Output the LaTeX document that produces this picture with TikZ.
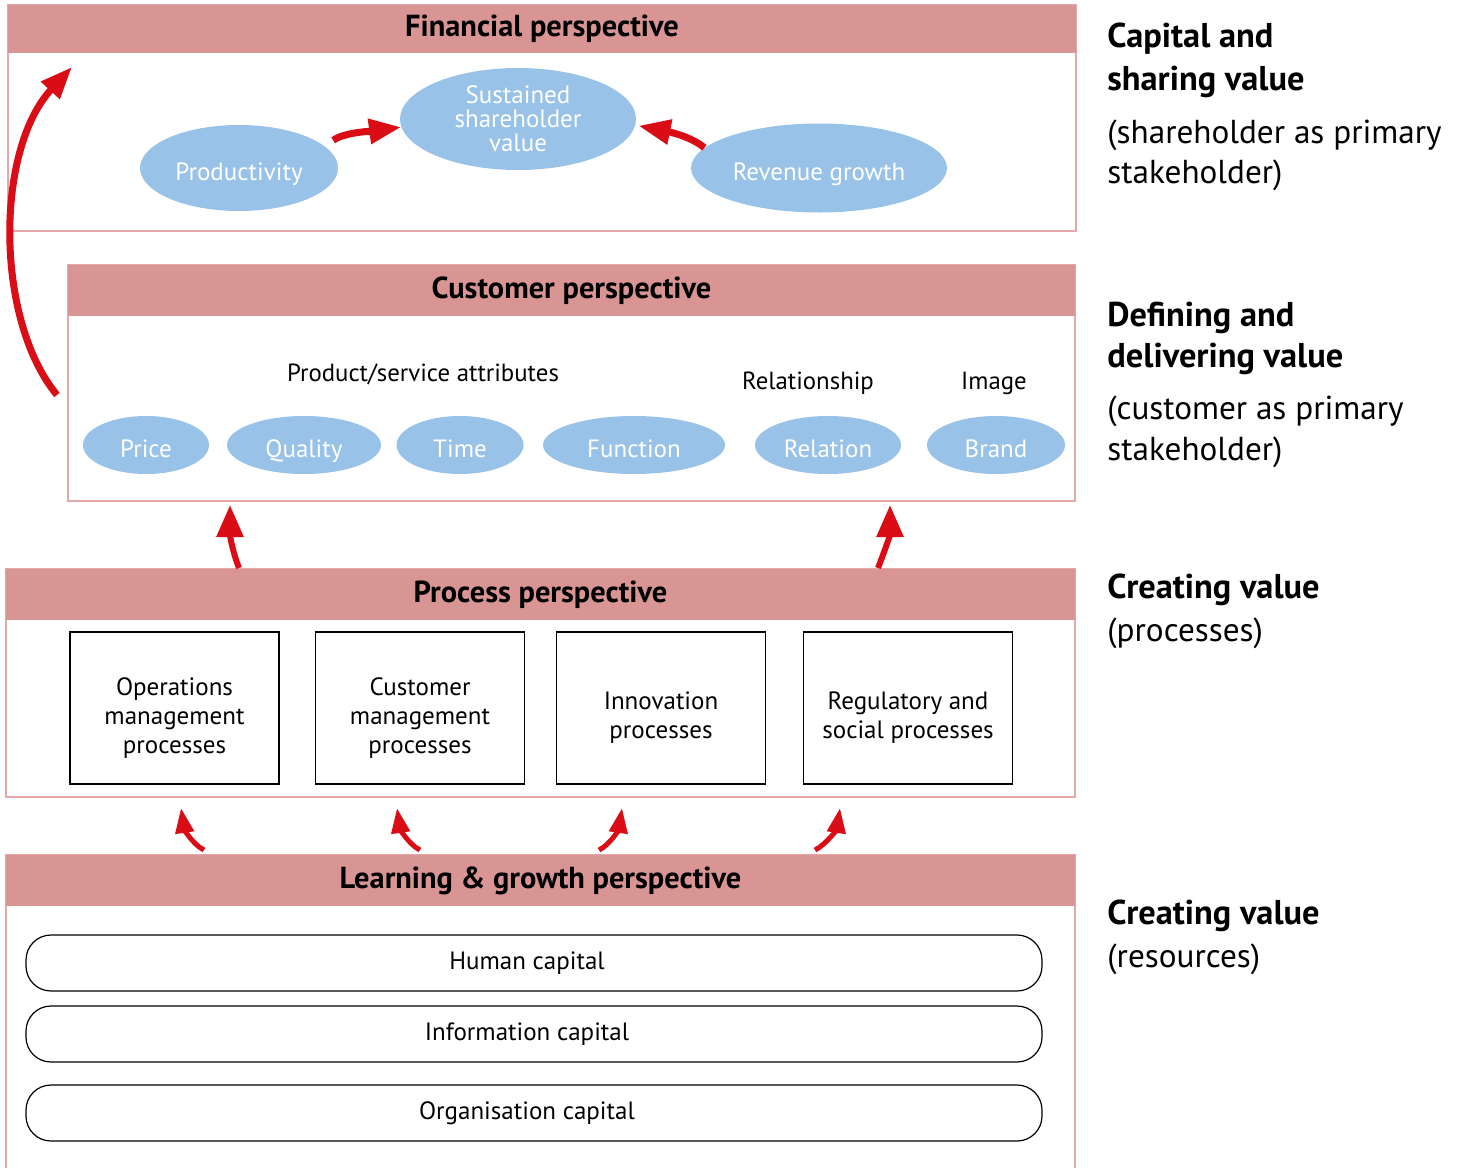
\documentclass[tikz,border=0pt]{standalone}
\usepackage{fontspec}
\setmainfont{PT Sans}
\usepackage{tikz}
\usetikzlibrary{shapes.geometric}
\usetikzlibrary{arrows.meta}

\definecolor{headpink}{RGB}{216,149,148}
\definecolor{framepink}{RGB}{228,168,168}
\definecolor{ovalblue}{RGB}{152,194,232}
\definecolor{arrowred}{RGB}{218,12,22}

\tikzset{
  headbar/.style={fill=headpink, inner sep=0pt, font=\fontsize{15.2}{17}\selectfont\bfseries},
  pinkframe/.style={draw=framepink, line width=0.7pt},
  valueoval/.style={ellipse, fill=ovalblue, text=white, inner sep=0pt, text height=12.5pt, text depth=0pt, font=\fontsize{12.5}{12}\selectfont},
  plainlabel/.style={inner sep=0pt, font=\fontsize{12.4}{14}\selectfont},
  procbox/.style={draw, line width=0.6pt, minimum width=104.5pt, minimum height=76pt, inner sep=0pt},
  proctext/.style={inner sep=0pt, align=center, font=\fontsize{12.5}{14.4}\selectfont},
  capbox/.style={draw, line width=0.6pt, rounded corners=12.5pt, minimum width=508pt, minimum height=28pt, inner sep=0pt, font=\fontsize{12.5}{14}\selectfont},
  sidehead/.style={anchor=base west, inner sep=0pt, font=\fontsize{17.2}{20}\selectfont\bfseries},
  sidenote/.style={anchor=base west, inner sep=0pt, font=\fontsize{16.6}{20}\selectfont},
  bigarrow/.style={draw=arrowred, line width=3.5pt, -{Triangle[length=16pt,width=12pt]}},
  midarrow/.style={draw=arrowred, line width=3pt, -{Triangle[length=16pt,width=13pt]}},
  smallarrow/.style={draw=arrowred, line width=2.5pt, -{Triangle[length=12.5pt,width=9pt]}}
}

\begin{document}
\begin{tikzpicture}[x=0.5pt,y=-0.5pt]
  \useasboundingbox (0,0) rectangle (1459,1167);

  % frames
  \draw[pinkframe] (8,5) rectangle (1076,231);
  \draw[pinkframe] (68,265) rectangle (1075,501);
  \draw[pinkframe] (6,569) rectangle (1075,797);
  \draw[pinkframe] (6,1168) -- (6,855) -- (1075,855) -- (1075,1168);

  % financial perspective
  \node[headbar, minimum width=534pt, minimum height=24pt] (finhead) at (542,29) {Financial perspective};
  \node[valueoval, minimum width=99pt, minimum height=43pt] (prod) at (239,168) {Productivity};
  \node[valueoval, minimum width=118pt, minimum height=51pt, text height=, text depth=-3pt, align=center] (sust) at (518,119) {Sustained\\shareholder\\value};
  \node[valueoval, minimum width=128pt, minimum height=44.5pt] (rev) at (819,168) {Revenue growth};

  \draw[bigarrow, shorten <=5pt] (prod.14) .. controls +(18,-14) and +(-30,4) .. (sust.184);
  \draw[bigarrow, shorten >=1.5pt] (rev.170) .. controls +(-14,-12) and +(30,6) .. (sust.-3);

  % customer perspective
  \node[headbar, minimum width=503.5pt, minimum height=25.5pt] (cushead) at (571.5,290.5) {Customer perspective};
  \node[plainlabel] (attr) at (423,374) {Product/service attributes};
  \node[plainlabel] (relship) at (808,383) {Relationship};
  \node[plainlabel] (image) at (994,383) {Image};
  \foreach \name/\x/\w/\txt in {price/146/63/Price, quality/304/77/Quality, time/460/63.5/Time,
      func/634/91/Function, relation/828/73/Relation, brand/996/69/Brand}
    \node[valueoval, minimum width=\w pt, minimum height=29pt] (\name) at (\x,445) {\txt};

  \coordinate (bigtail) at (57,395);
  \coordinate (bigtip) at (72,67);
  \draw[bigarrow] (bigtail) .. controls (-5,320) and (-5,150) .. (bigtip);

  % process perspective
  \node[headbar, minimum width=534.5pt, minimum height=25.5pt] (prochead) at (540.5,594.5) {Process perspective};
  \node[procbox] (ops) at (174.5,708) {};
  \node[procbox] (custmgmt) at (420,708) {};
  \node[procbox] (innov) at (661,708) {};
  \node[procbox] (reg) at (908,708) {};
  \node[proctext] (opstext) at ([yshift=-5pt]ops.center) {Operations\\management\\processes};
  \node[proctext] (custtext) at ([yshift=-5pt]custmgmt.center) {Customer\\management\\processes};
  \node[proctext] (innovtext) at ([yshift=-5pt]innov.center) {Innovation\\processes};
  \node[proctext] (regtext) at ([yshift=-5pt]reg.center) {Regulatory and\\social processes};

  \coordinate (pc1) at (239,568);
  \coordinate (cp1) at (230,505);
  \coordinate (pc2) at (878,568);
  \coordinate (cp2) at (890,505);
  \draw[midarrow] (pc1) .. controls +(-7,-18) and +(0,30) .. (cp1);
  \draw[midarrow] (pc2) .. controls +(7,-18) and +(0,30) .. (cp2);

  % learning & growth perspective
  \node[headbar, minimum width=534.5pt, minimum height=25.5pt] (learnhead) at (540.5,880.5) {Learning \& growth perspective};
  \node[capbox] (human) at (534,963) {\hspace*{-7pt}Human capital};
  \node[capbox] (info) at (534,1034) {\hspace*{-7pt}Information capital};
  \node[capbox] (org) at (534,1113) {\hspace*{-7pt}Organisation capital};

  \foreach \i/\sx/\tx/\d in {1/204/181/-1, 2/420/397/-1, 3/599/622/1, 4/815/840/1} {
    \coordinate (lg\i) at (\sx,850);
    \coordinate (pr\i) at (\tx,808);
    \draw[smallarrow] (lg\i) .. controls +(\d*12,-6) and +(-\d*3,20) .. (pr\i);
  }

  % side labels
  \node[sidehead] (cap1) at (1107,47) {Capital and};
  \node[sidehead] (cap2) at (1107,90) {sharing value};
  \node[sidenote] (cap3) at (1107,143) {(shareholder as primary};
  \node[sidenote] (cap4) at (1107,183) {stakeholder)};
  \node[sidehead] (def1) at (1107,326) {Defining and};
  \node[sidehead] (def2) at (1107,367) {delivering value};
  \node[sidenote] (def3) at (1107,419) {(customer as primary};
  \node[sidenote] (def4) at (1107,460) {stakeholder)};
  \node[sidehead] (crp1) at (1107,598) {Creating value};
  \node[sidenote] (crp2) at (1107,641) {(processes)};
  \node[sidehead] (crr1) at (1107,924) {Creating value};
  \node[sidenote] (crr2) at (1107,967) {(resources)};
\end{tikzpicture}
\end{document}
